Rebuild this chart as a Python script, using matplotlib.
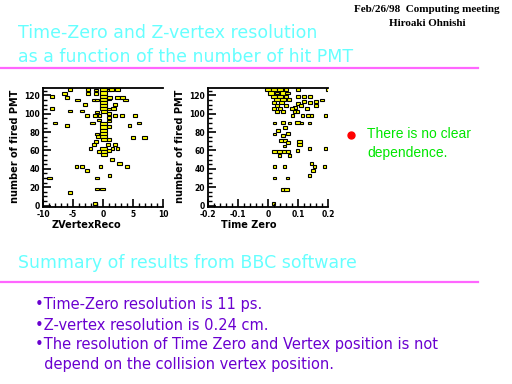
import numpy as np
import matplotlib
matplotlib.use("Agg")
import matplotlib.pyplot as plt
from matplotlib.patches import Rectangle
from matplotlib.ticker import MultipleLocator

# ZVertexReco vs number of fired PMT (box plot: x, y, count)
zv_x = [0.1] * 17 + [1.0] * 9 + [
    -5.5, -2.5, -2.5, -1.2, -1.2, 1.4, 2.4, -6.4, -8.5, -6.0, -4.2, -1.5, -1.0,
    1.1, 2.4, 3.2, 3.8, 2.0, -3.0, 1.7, -8.5, -5.5, -3.5, -1.0, -2.7, -1.3, -0.6,
    2.0, 3.2, 5.3, -0.7, -8.0, -1.8, 6.0, -6.0, 4.4, -1.0, -0.8, 5.0, 6.9, -1.2,
    -1.5, 0.8, 2.0, -2.1, 1.6, 2.4, -0.7, 1.5, 2.8, -4.4, -3.5, -0.4, 4.0, -2.7,
    1.1, -8.9, -1.0, -1.0, -0.1, -5.5, -1.3]
zv_y = [126, 122.6, 119.2, 115.8, 112.4, 109, 105.6, 102.2,
        89, 85.6, 82.2, 78.8, 75.4, 72, 62, 58.6, 55.2] + \
       [126, 116, 105, 100, 96, 92, 86, 72, 60] + [
    126.5, 126, 122, 126, 122, 126, 126, 122, 119, 118, 115, 115, 115,
    118, 118, 118, 115, 110, 110, 106, 106, 103, 103, 102, 98, 98, 98,
    98, 98, 98, 93, 90, 90, 90, 87, 87, 78, 75, 74, 74, 70,
    66.5, 66.5, 66.5, 62, 62, 62, 59, 50, 46, 42.5, 42.5, 42.5, 42.5, 38,
    33, 30, 30, 18, 18, 14, 2]
zv_n = [4, 4, 4, 4, 4, 4, 4, 3, 4, 4, 4, 4, 4, 3, 4, 4, 3] + [1] * 9 + [
    2, 2, 2, 1, 1, 2, 2, 2, 2, 2, 2, 2, 1,
    2, 2, 2, 2, 2, 2, 2, 1, 1, 1, 1, 1, 1, 1,
    1, 1, 1, 1, 2, 2, 2, 2, 1, 1, 1, 2, 2, 1,
    1, 1, 1, 1, 1, 1, 1, 2, 2, 1, 1, 1, 1, 1,
    1, 2, 1, 2, 2, 2, 1]

# Time Zero vs number of fired PMT
t0_x = [0.0, 0.02, 0.04, 0.06, 0.1, 0.2,
        0.01, 0.03, 0.05, 0.065, 0.1, 0.12, 0.14,
        0.02, 0.04, 0.06, 0.12, 0.14, 0.16, 0.18,
        0.03, 0.05, 0.07, 0.1, 0.16,
        0.02, 0.045, 0.09, 0.11, 0.13,
        0.03, 0.06,
        0.02, 0.04, 0.08, 0.095,
        0.03, 0.05, 0.087, 0.081, 0.114, 0.133, 0.144, 0.192,
        0.022, 0.05, 0.072, 0.098, 0.111, 0.139,
        0.033, 0.056, 0.067, 0.05, 0.022,
        0.044, 0.056, 0.067, 0.104, 0.104, 0.056,
        0.139, 0.192, 0.098,
        0.022, 0.039, 0.053, 0.067, 0.039, 0.072,
        0.144, 0.022, 0.056, 0.155, 0.187, 0.15, 0.137,
        0.022, 0.064, 0.05, 0.061, 0.017]
t0_y = [126, 126, 126, 126, 126, 126.5,
        122.6, 122.6, 122.6, 122.6, 119, 119, 119,
        119.2, 119.2, 119.2, 113, 112, 113, 115,
        115.8, 115.8, 115.8, 111, 109,
        112.4, 112.4, 107, 109, 106,
        109, 109,
        105.6, 105.6, 105.6, 102.5,
        102.2, 102.2, 102.5, 98, 98, 98, 98, 98,
        90, 90, 90, 90, 90, 90,
        82, 85, 78, 76, 78,
        71, 71, 69, 70, 66.5, 65,
        62, 62, 60,
        59, 59, 59, 59, 54.5, 54.5,
        46, 42.5, 42.5, 42.5, 42.5, 38, 33,
        30, 30, 18, 18, 2]
t0_n = [3, 3, 3, 2, 1, 1,
        3, 2, 3, 2, 1, 2, 1,
        3, 3, 2, 2, 1, 2, 1,
        3, 3, 1, 1, 1,
        2, 2, 1, 1, 1,
        2, 1,
        2, 2, 1, 2,
        2, 1, 1, 1, 1, 1, 1, 1,
        1, 2, 1, 2, 1, 1,
        2, 2, 2, 1, 1,
        2, 2, 2, 2, 2, 1,
        1, 1, 1,
        2, 2, 1, 2, 1, 1,
        1, 1, 1, 1, 1, 1, 1,
        1, 1, 2, 2, 1]

y_ticks = [0, 20, 40, 60, 80, 100, 120]

W, H = 512, 384
fig = plt.figure(figsize=(W / 100, H / 100), dpi=100)
fig.patch.set_facecolor("white")


def fx(x):
    return x / W


def fy(y):
    return 1 - y / H


def box_panel(rect, xs, ys, ns, dx, dy, xlim, xmaj, xmin, xlabels):
    ax = fig.add_axes(rect)
    nmax = max(ns)
    for x, y, n in zip(xs, ys, ns):
        w = dx * (0.3 + 0.7 * n / nmax)
        h = dy * (0.8 + 0.2 * n / nmax)
        ax.add_patch(Rectangle((x - w / 2, y - h / 2), w, h, facecolor="#ffff00",
                               edgecolor="black", linewidth=0.8))
    ax.set_xlim(*xlim)
    ax.set_ylim(-1.5, 128)
    ax.set_yticks(y_ticks)
    ax.yaxis.set_minor_locator(MultipleLocator(5))
    ax.set_xticks(xmaj)
    ax.set_xticklabels(xlabels)
    ax.xaxis.set_minor_locator(MultipleLocator(xmin))
    ax.tick_params(which="major", direction="in", length=6, width=1.2,
                   labelsize=5.5, pad=2)
    ax.tick_params(which="minor", direction="in", length=3, width=1.0)
    for lab in ax.get_xticklabels() + ax.get_yticklabels():
        lab.set_fontweight("bold")
    ax.spines["right"].set_visible(False)
    for s in ["left", "bottom", "top"]:
        ax.spines[s].set_linewidth(1.3)
    return ax


box_panel([fx(43), fy(207), 120 / W, 119 / H], zv_x, zv_y, zv_n, 1.2, 3.4,
          (-10, 10), [-10, -5, 0, 5, 10], 1, ["-10", "-5", "0", "5", "10"])
box_panel([fx(208), fy(207), 120 / W, 119 / H], t0_x, t0_y, t0_n, 0.02, 3.4,
          (-0.2, 0.2), [-0.2, -0.1, 0, 0.1, 0.2], 0.02,
          ["-0.2", "-0.1", "0", "0.1", "0.2"])

lab = dict(fontsize=7, fontweight="bold", color="black", family="DejaVu Sans")
fig.text(fx(15), fy(146), "number of fired PMT", rotation=90, ha="center", va="center", **lab)
fig.text(fx(180), fy(146), "number of fired PMT", rotation=90, ha="center", va="center", **lab)
fig.text(fx(86), fy(225), "ZVertexReco", ha="center", va="center", **lab)
fig.text(fx(249), fy(225), "Time Zero", ha="center", va="center", **lab)

cyan = "#66ffff"
pink = "#ff66ff"
purple = "#6a00d0"
green = "#00e600"

fig.text(fx(18), fy(33), "Time-Zero and Z-vertex resolution", color=cyan,
         fontsize=12.5, family="DejaVu Sans", ha="left", va="center")
fig.text(fx(18), fy(57), "as a function of the number of hit PMT", color=cyan,
         fontsize=12.5, family="DejaVu Sans", ha="left", va="center")
fig.text(fx(427), fy(10), "Feb/26/98  Computing meeting", fontsize=8,
         fontweight="bold", family="Liberation Serif", ha="center", va="center")
fig.text(fx(427), fy(24), "Hiroaki Ohnishi", fontsize=8,
         fontweight="bold", family="Liberation Serif", ha="center", va="center")

fig.add_artist(plt.Line2D([0, fx(478)], [fy(68), fy(68)], color=pink, linewidth=1.6))
fig.add_artist(plt.Line2D([0, fx(478)], [fy(282), fy(282)], color=pink, linewidth=1.6))

fig.add_artist(plt.Line2D([fx(351)], [fy(135)], marker="o", markersize=5,
                          color="#ff0000", linestyle="none"))
fig.text(fx(367), fy(134), "There is no clear", color=green, fontsize=10,
         family="Liberation Sans", ha="left", va="center")
fig.text(fx(367), fy(153), "dependence.", color=green, fontsize=10,
         family="Liberation Sans", ha="left", va="center")

fig.text(fx(18), fy(263), "Summary of results from BBC software", color=cyan,
         fontsize=12.5, family="DejaVu Sans", ha="left", va="center")

bullets = ["\u2022Time-Zero resolution is 11 ps.",
           "\u2022Z-vertex resolution is 0.24 cm.",
           "\u2022The resolution of Time Zero and Vertex position is not",
           "  depend on the collision vertex position."]
for i, t in enumerate(bullets):
    fig.text(fx(35), fy(305 + 20 * i), t, color=purple, fontsize=10.5,
             family="DejaVu Sans", ha="left", va="center")

fig.savefig("out.png", dpi=100)
